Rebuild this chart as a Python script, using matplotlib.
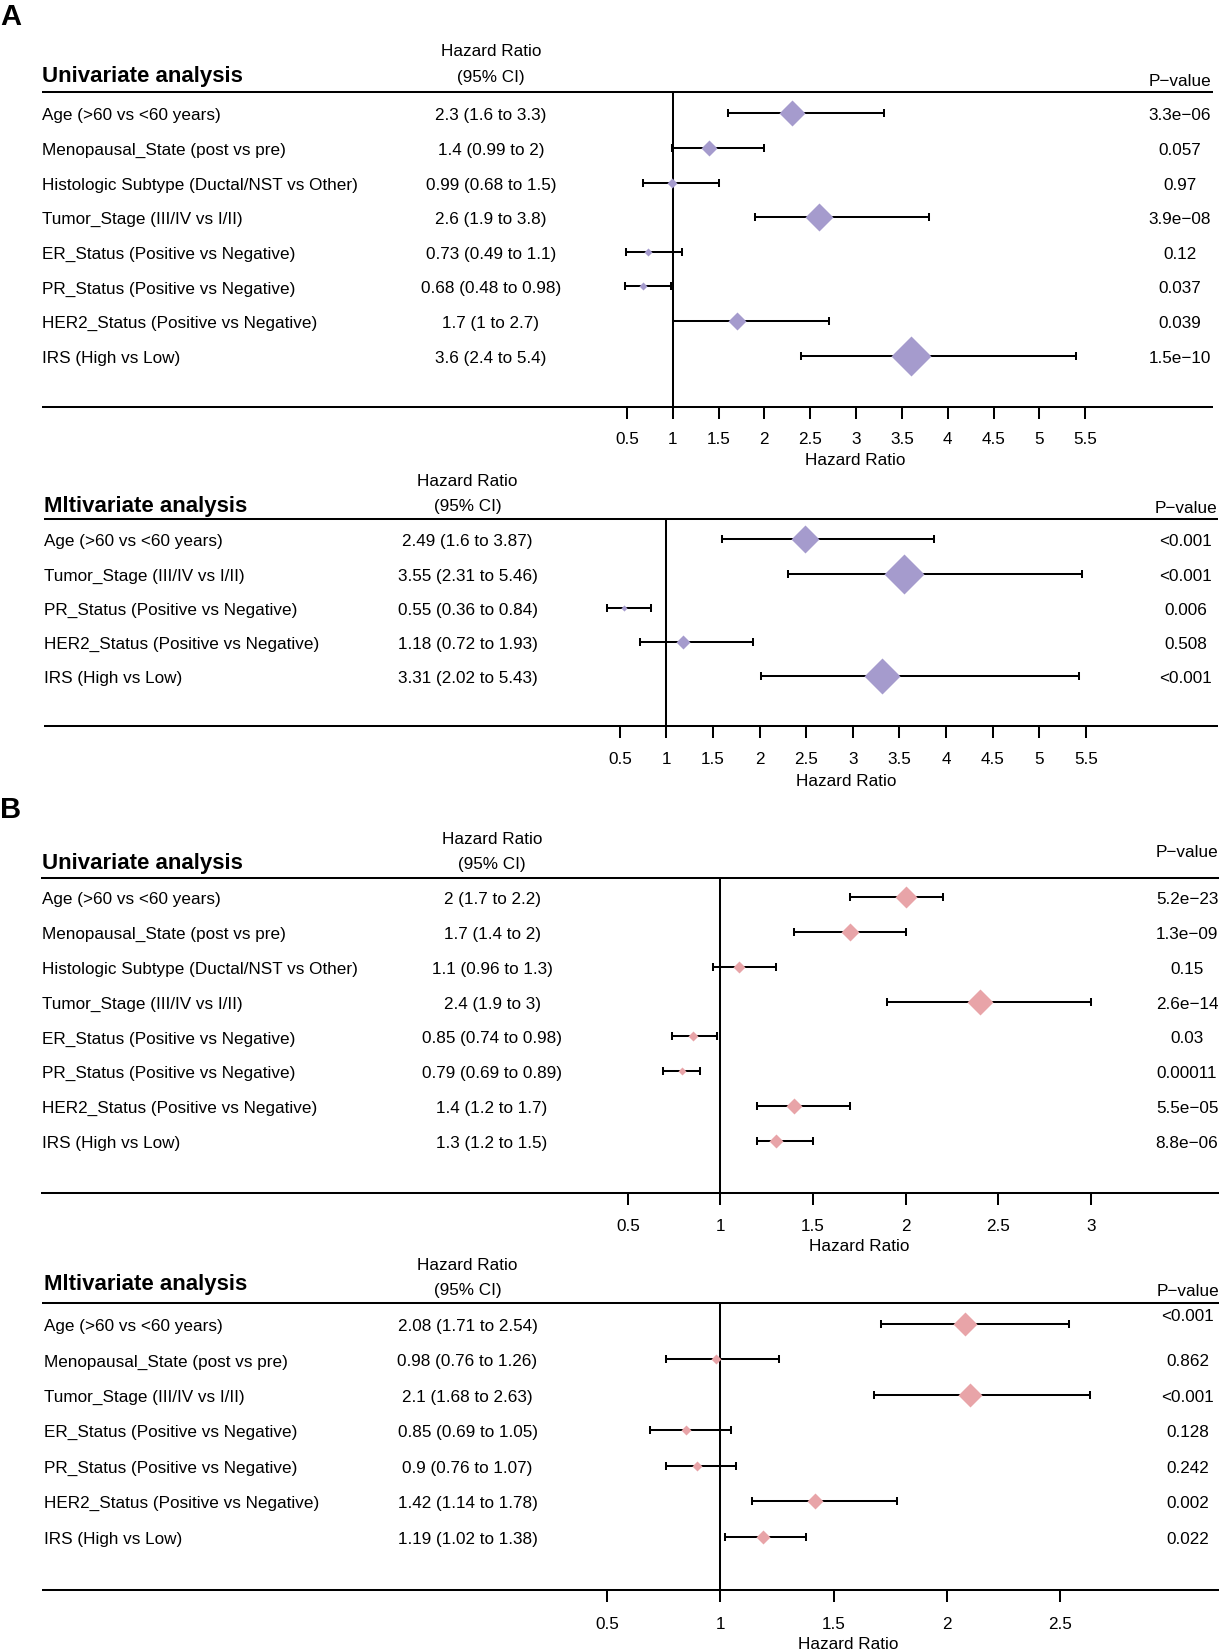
import matplotlib
matplotlib.use('Agg')
import matplotlib.pyplot as plt
from matplotlib.lines import Line2D
from matplotlib.transforms import blended_transform_factory

plt.rcParams['font.family'] = ['Liberation Sans', 'DejaVu Sans']

# ---------------- data ----------------
labels_uni = ["Age (>60 vs <60 years)", "Menopausal_State (post vs pre)",
              "Histologic Subtype (Ductal/NST vs Other)", "Tumor_Stage (III/IV vs I/II)",
              "ER_Status (Positive vs Negative)", "PR_Status (Positive vs Negative)",
              "HER2_Status (Positive vs Negative)", "IRS (High vs Low)"]

a_uni_hr = [2.3, 1.4, 0.99, 2.6, 0.73, 0.68, 1.7, 3.6]
a_uni_lo = [1.6, 0.99, 0.68, 1.9, 0.49, 0.48, 1.0, 2.4]
a_uni_hi = [3.3, 2.0, 1.5, 3.8, 1.1, 0.98, 2.7, 5.4]
a_uni_p = ["3.3e\u221206", "0.057", "0.97", "3.9e\u221208", "0.12", "0.037", "0.039", "1.5e\u221210"]

a_multi_labels = ["Age (>60 vs <60 years)", "Tumor_Stage (III/IV vs I/II)",
                  "PR_Status (Positive vs Negative)", "HER2_Status (Positive vs Negative)",
                  "IRS (High vs Low)"]
a_multi_hr = [2.49, 3.55, 0.55, 1.18, 3.31]
a_multi_lo = [1.6, 2.31, 0.36, 0.72, 2.02]
a_multi_hi = [3.87, 5.46, 0.84, 1.93, 5.43]
a_multi_p = ["<0.001", "<0.001", "0.006", "0.508", "<0.001"]

b_uni_hr = [2, 1.7, 1.1, 2.4, 0.85, 0.79, 1.4, 1.3]
b_uni_lo = [1.7, 1.4, 0.96, 1.9, 0.74, 0.69, 1.2, 1.2]
b_uni_hi = [2.2, 2, 1.3, 3, 0.98, 0.89, 1.7, 1.5]
b_uni_p = ["5.2e\u221223", "1.3e\u221209", "0.15", "2.6e\u221214", "0.03", "0.00011",
           "5.5e\u221205", "8.8e\u221206"]

b_multi_labels = ["Age (>60 vs <60 years)", "Menopausal_State (post vs pre)",
                  "Tumor_Stage (III/IV vs I/II)", "ER_Status (Positive vs Negative)",
                  "PR_Status (Positive vs Negative)", "HER2_Status (Positive vs Negative)",
                  "IRS (High vs Low)"]
b_multi_hr = [2.08, 0.98, 2.1, 0.85, 0.9, 1.42, 1.19]
b_multi_lo = [1.71, 0.76, 1.68, 0.69, 0.76, 1.14, 1.02]
b_multi_hi = [2.54, 1.26, 2.63, 1.05, 1.07, 1.78, 1.38]
b_multi_p = ["<0.001", "0.862", "<0.001", "0.128", "0.242", "0.002", "0.022"]

ticks_a = [0.5, 1, 1.5, 2, 2.5, 3, 3.5, 4, 4.5, 5, 5.5]
ticks_b_uni = [0.5, 1, 1.5, 2, 2.5, 3]
ticks_b_multi = [0.5, 1, 1.5, 2, 2.5]

PURPLE = '#A59BCD'
PINK = '#E8A4A8'

# ---------------- figure ----------------
W, H, DPI = 1222, 1651, 100
fig = plt.figure(figsize=(W / DPI, H / DPI), dpi=DPI)
fig.patch.set_facecolor('white')

FS = 12.3
LW = 1.45


def fx(x):
    return x / W


def fy(y):
    return 1 - y / H


def hline(x0, x1, y):
    fig.add_artist(Line2D([fx(x0), fx(x1)], [fy(y), fy(y)], color='black', lw=LW,
                          solid_capstyle='butt'))


def panel(title, labels, hr, lo, hi, pvals, ticks, color, L):
    n = len(labels)
    xmin = min(min(lo), ticks[0])
    xmax = max(max(hi), ticks[-1])
    left_px = L['x0'] + (xmin - ticks[0]) * L['scale']
    width_px = (xmax - xmin) * L['scale']
    ax = fig.add_axes([fx(left_px), fy(L['bot']), width_px / W, (L['bot'] - L['top']) / H])
    ax.set_xlim(xmin, xmax)
    y0, dy = L['row0'], L['dy']
    ax.set_ylim((L['bot'] - y0) / dy, (L['top'] - y0) / dy)
    for s in ax.spines.values():
        s.set_visible(False)
    ax.patch.set_visible(False)
    ax.set_yticks([])
    ax.set_xticks(ticks)
    ax.tick_params(axis='x', direction='out', length=8.4, width=LW, labelbottom=False,
                   color='black')
    ax.axvline(1, color='black', lw=LW, zorder=1)

    rows = list(range(n))
    xerr = [[h - l for h, l in zip(hr, lo)], [u - h for h, u in zip(hr, hi)]]
    ax.errorbar(hr, rows, xerr=xerr, fmt='none', ecolor='black', elinewidth=LW,
                capsize=2.9, capthick=LW, zorder=2, clip_on=False)
    for i, h in enumerate(hr):
        ax.plot([h], [i], marker='D', ms=5.65 * h, color=color, mec='none', zorder=3,
                clip_on=False)

    # tick labels and x label
    trans = blended_transform_factory(ax.transData, fig.transFigure)
    for t in ticks:
        ax.text(t, fy(L['tick_bl']), f"{t:g}", transform=trans, ha='center',
                va='baseline', fontsize=FS)
    fig.text(fx(left_px + width_px / 2), fy(L['xl_bl']), "Hazard Ratio", ha='center',
             va='baseline', fontsize=FS)

    # table text
    fig.text(fx(L['lab_x']), fy(L['title']), title, ha='left', va='baseline',
             fontsize=16, fontweight='bold')
    fig.text(fx(L['hr_x']), fy(L['h1']), "Hazard Ratio", ha='center', va='baseline',
             fontsize=FS)
    fig.text(fx(L['hr_x']), fy(L['h2']), "(95% CI)", ha='center', va='baseline',
             fontsize=FS)
    fig.text(fx(L['p_x']), fy(L['pv']), "P\u2212value", ha='center', va='baseline',
             fontsize=FS)
    for i in range(n):
        yb = y0 + i * dy + 7
        fig.text(fx(L['lab_x']), fy(yb), labels[i], ha='left', va='baseline', fontsize=FS)
        fig.text(fx(L['hr_x']), fy(yb), f"{hr[i]:g} ({lo[i]:g} to {hi[i]:g})",
                 ha='center', va='baseline', fontsize=FS)
        off = L.get('p_off', 0) if i == 0 else 0
        fig.text(fx(L['p_x']), fy(yb + off), pvals[i], ha='center', va='baseline',
                 fontsize=FS)

    hline(L['line_l'], L['line_r'], L['top'])
    hline(L['line_l'], L['line_r'], L['bot'])
    return ax


lay_a_uni = dict(x0=626.8, scale=91.7, top=92.3, bot=406.7, row0=113.3, dy=34.63,
                 lab_x=42, hr_x=491, p_x=1180, line_l=42, line_r=1213,
                 h1=56.5, h2=81.8, title=81.7, pv=86, tick_bl=444, xl_bl=465)
lay_a_multi = dict(x0=619.8, scale=93.2, top=519.3, bot=726, row0=539.3, dy=34.2,
                   lab_x=44, hr_x=467.5, p_x=1186, line_l=44, line_r=1218,
                   h1=486, h2=511.5, title=512, pv=512.7, tick_bl=764, xl_bl=786)
lay_b_uni = dict(x0=627.8, scale=185.2, top=878.3, bot=1192.7, row0=897.3, dy=34.77,
                 lab_x=42, hr_x=492, p_x=1187, line_l=41, line_r=1219,
                 h1=844, h2=869.4, title=869.3, pv=857, tick_bl=1231, xl_bl=1250.6)
lay_b_multi = dict(x0=606.8, scale=226.7, top=1303.3, bot=1590, row0=1324, dy=35.45,
                   lab_x=44, hr_x=467.5, p_x=1188, line_l=42, line_r=1219,
                   h1=1269.6, h2=1294.8, title=1289.5, pv=1296, tick_bl=1629,
                   xl_bl=1649, p_off=-9.7)

panel("Univariate analysis", labels_uni, a_uni_hr, a_uni_lo, a_uni_hi, a_uni_p,
      ticks_a, PURPLE, lay_a_uni)
panel("Mltivariate analysis", a_multi_labels, a_multi_hr, a_multi_lo, a_multi_hi,
      a_multi_p, ticks_a, PURPLE, lay_a_multi)
panel("Univariate analysis", labels_uni, b_uni_hr, b_uni_lo, b_uni_hi, b_uni_p,
      ticks_b_uni, PINK, lay_b_uni)
panel("Mltivariate analysis", b_multi_labels, b_multi_hr, b_multi_lo, b_multi_hi,
      b_multi_p, ticks_b_multi, PINK, lay_b_multi)

fig.text(fx(0), fy(25), "A", ha='left', va='baseline', fontsize=21, fontweight='bold')
fig.text(fx(0), fy(818), "B", ha='left', va='baseline', fontsize=21, fontweight='bold')

fig.savefig('out.png', dpi=DPI, facecolor='white')
